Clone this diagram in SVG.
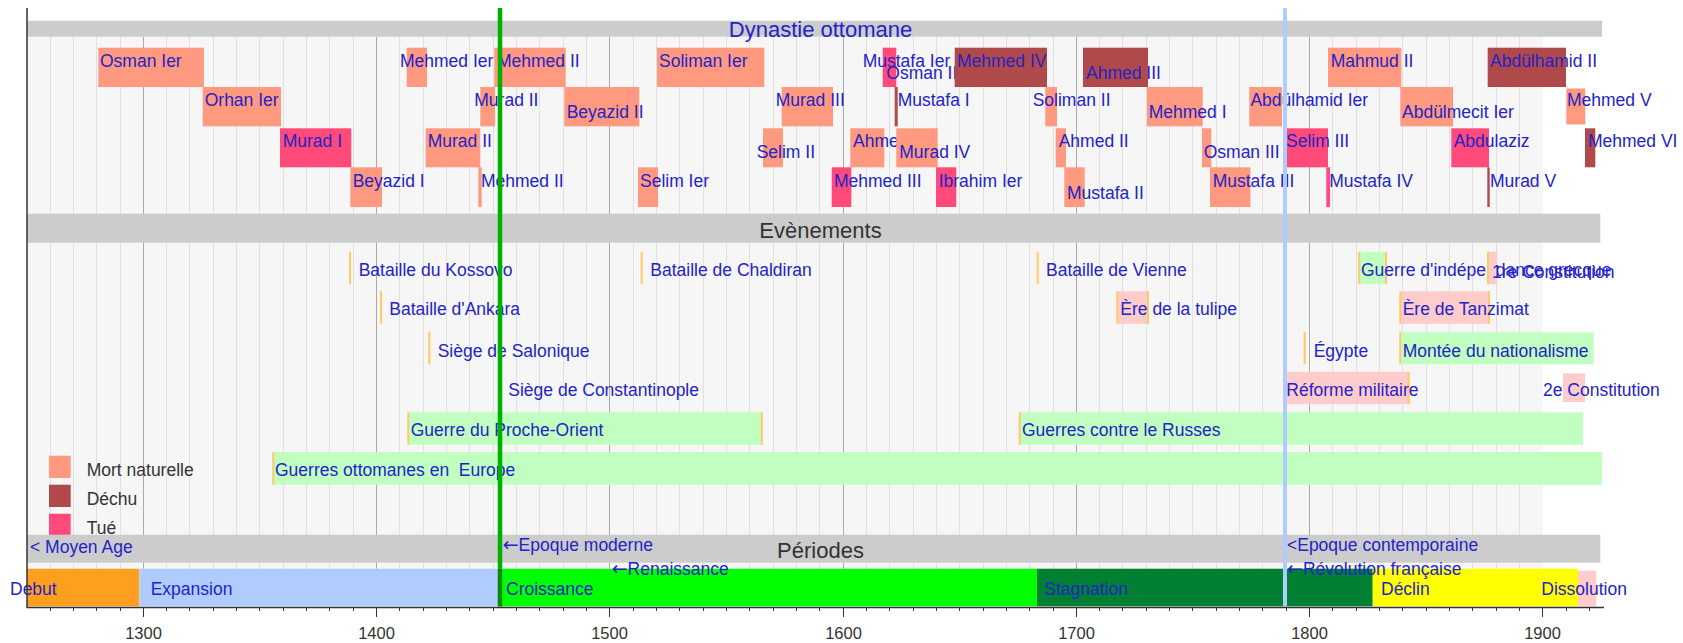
<svg xmlns="http://www.w3.org/2000/svg" width="1683" height="643" viewBox="0 0 1683 643">
<style>
.t{font-family:"Liberation Sans",Arial,Helvetica,sans-serif;font-size:17.5px;fill:#2323c8}
.ar{font-family:"DejaVu Sans",sans-serif;font-size:19px}
.h{font-size:22px;text-anchor:middle}
.k{fill:#333}
.yr{font-family:"Liberation Sans",Arial,sans-serif;font-size:16.5px;fill:#333;text-anchor:middle}
.mn{fill:#ff9980}.de{fill:#b04a4a}.tu{fill:#ff4a7a}
.eg{fill:#c0ffc0}.ep{fill:#ffcccc}
.mk{stroke:#ffc966;stroke-width:2}
.hb{fill:#cccccc}
</style>
<g id="background">
<rect x="27" y="36.7" width="1515.8" height="532" fill="#f6f6f6"/>
<path fill="none" stroke="#e0e0e0" stroke-width="1" d="M50.5 36.7V568.7M73.5 36.7V568.7M96.5 36.7V568.7M120.5 36.7V568.7M166.5 36.7V568.7M189.5 36.7V568.7M213.5 36.7V568.7M236.5 36.7V568.7M259.5 36.7V568.7M283.5 36.7V568.7M306.5 36.7V568.7M329.5 36.7V568.7M353.5 36.7V568.7M399.5 36.7V568.7M423.5 36.7V568.7M446.5 36.7V568.7M469.5 36.7V568.7M493.5 36.7V568.7M516.5 36.7V568.7M539.5 36.7V568.7M563.5 36.7V568.7M586.5 36.7V568.7M633.5 36.7V568.7M656.5 36.7V568.7M679.5 36.7V568.7M703.5 36.7V568.7M726.5 36.7V568.7M749.5 36.7V568.7M773.5 36.7V568.7M796.5 36.7V568.7M819.5 36.7V568.7M866.5 36.7V568.7M889.5 36.7V568.7M913.5 36.7V568.7M936.5 36.7V568.7M959.5 36.7V568.7M983.5 36.7V568.7M1006.5 36.7V568.7M1029.5 36.7V568.7M1053.5 36.7V568.7M1099.5 36.7V568.7M1122.5 36.7V568.7M1146.5 36.7V568.7M1169.5 36.7V568.7M1192.5 36.7V568.7M1216.5 36.7V568.7M1239.5 36.7V568.7M1262.5 36.7V568.7M1286.5 36.7V568.7M1332.5 36.7V568.7M1356.5 36.7V568.7M1379.5 36.7V568.7M1402.5 36.7V568.7M1426.5 36.7V568.7M1449.5 36.7V568.7M1472.5 36.7V568.7M1496.5 36.7V568.7M1519.5 36.7V568.7"/>
<path fill="none" stroke="#aaaaaa" stroke-width="1" d="M143.5 36.7V568.7M376.5 36.7V568.7M609.5 36.7V568.7M843.5 36.7V568.7M1076.5 36.7V568.7M1309.5 36.7V568.7"/>
</g>
<g id="dynasty">
<g id="osman1"><rect class="mn" x="98.3" y="47.7" width="105.7" height="39.3"/><text class="t" x="100" y="66.7">Osman Ier</text></g>
<g id="mehmed1"><rect class="mn" x="406.7" y="47.7" width="20.3" height="39.3"/><text class="t" x="400" y="66.7">Mehmed Ier</text></g>
<g id="mehmed2b"><rect class="mn" x="494.3" y="47.7" width="71.4" height="39.3"/><text class="t" x="497" y="66.7">Mehmed II</text></g>
<g id="soliman1"><rect class="mn" x="657" y="47.7" width="107.3" height="39.3"/><text class="t" x="659" y="66.7">Soliman Ier</text></g>
<g id="osman2"><rect class="tu" x="882.7" y="47.7" width="13.6" height="39.3"/></g>
<g id="mustafa1a"><text class="t" x="862.7" y="66.7">Mustafa Ier</text></g>
<g id="osman2-label"><text class="t" x="886.3" y="78.5">Osman II</text></g>
<g id="mehmed4"><rect class="de" x="954.7" y="47.7" width="92.3" height="39.3"/><text class="t" x="957" y="66.7">Mehmed IV</text></g>
<g id="ahmed3"><rect class="de" x="1083" y="47.7" width="65" height="39.3"/><text class="t" x="1086" y="78.5">Ahmed III</text></g>
<g id="mahmud2"><rect class="mn" x="1328" y="47.7" width="73.3" height="39.3"/><text class="t" x="1330.7" y="66.7">Mahmud II</text></g>
<g id="abdulhamid2"><rect class="de" x="1487.7" y="47.7" width="78.3" height="39.3"/><text class="t" x="1490" y="66.7">Abdülhamid II</text></g>

<g id="orhan1"><rect class="mn" x="202.7" y="87" width="78.3" height="39.3"/><text class="t" x="204.7" y="106">Orhan Ier</text></g>
<g id="murad2b"><rect class="mn" x="480.3" y="87" width="14.7" height="39.3"/><text class="t" x="474.3" y="106">Murad II</text></g>
<g id="beyazid2"><rect class="mn" x="564.3" y="87" width="75" height="39.3"/><text class="t" x="566.7" y="118.3">Beyazid II</text></g>
<g id="murad3"><rect class="mn" x="781.7" y="87" width="51.3" height="39.3"/><text class="t" x="775.7" y="106">Murad III</text></g>
<g id="mustafa1b"><rect class="de" x="894.7" y="87" width="3" height="39.3"/><text class="t" x="897.7" y="106">Mustafa I</text></g>
<g id="soliman2"><rect class="mn" x="1045.3" y="87" width="11.7" height="39.3"/><text class="t" x="1032.7" y="106">Soliman II</text></g>
<g id="mahmud1"><rect class="mn" x="1147" y="87" width="55.7" height="39.3"/><text class="t" x="1148.7" y="118.3">Mehmed I</text></g>
<g id="abdulhamid1"><rect class="mn" x="1249.3" y="87" width="32.7" height="39.3"/><text class="t" x="1250.4" y="106">Abdülhamid Ier</text></g>
<g id="abdulmecit1"><rect class="mn" x="1400.3" y="87" width="52.7" height="39.3"/><text class="t" x="1402" y="118.3">Abdülmecit Ier</text></g>
<g id="mehmed5"><rect class="mn" x="1566.3" y="88.5" width="19" height="36"/><text class="t" x="1567" y="106">Mehmed V</text></g>

<g id="murad1"><rect class="tu" x="280" y="128.3" width="71.3" height="39"/><text class="t" x="282.7" y="147.3">Murad I</text></g>
<g id="murad2a"><rect class="mn" x="425.7" y="128.3" width="54.6" height="39"/><text class="t" x="427.7" y="147.3">Murad II</text></g>
<g id="selim2"><rect class="mn" x="763" y="128.3" width="20" height="39"/><text class="t" x="756.7" y="158.3">Selim II</text></g>
<g id="ahmed1"><rect class="mn" x="850.3" y="128.3" width="34" height="39"/><text class="t" x="853" y="147.3">Ahmed I</text></g>
<g id="murad4"><rect class="mn" x="896.3" y="128.3" width="41.4" height="39"/><text class="t" x="899.3" y="158.3">Murad IV</text></g>
<g id="ahmed2"><rect class="mn" x="1055.7" y="128.3" width="10.3" height="39"/><text class="t" x="1058.7" y="147.3">Ahmed II</text></g>
<g id="osman3"><rect class="mn" x="1202" y="128.3" width="9.3" height="39"/><text class="t" x="1203.7" y="158.3">Osman III</text></g>
<g id="selim3"><rect class="tu" x="1287" y="128.3" width="41" height="39"/><text class="t" x="1286" y="147.3">Selim III</text></g>
<g id="abdulaziz"><rect class="tu" x="1451.3" y="128.3" width="37.7" height="39"/><text class="t" x="1453.7" y="147.3">Abdulaziz</text></g>
<g id="mehmed6"><rect class="de" x="1585" y="128.3" width="10.3" height="39"/><text class="t" x="1588" y="147.3">Mehmed VI</text></g>

<g id="beyazid1"><rect class="mn" x="350.3" y="167.3" width="31.7" height="39.7"/><text class="t" x="352.7" y="186.7">Beyazid I</text></g>
<g id="mehmed2a"><rect class="mn" x="478.3" y="167.3" width="3.4" height="39.7"/><text class="t" x="481" y="186.7">Mehmed II</text></g>
<g id="selim1"><rect class="mn" x="638" y="167.3" width="20" height="39.7"/><text class="t" x="640" y="186.7">Selim Ier</text></g>
<g id="mehmed3"><rect class="tu" x="831.7" y="167.3" width="19.6" height="39.7"/><text class="t" x="834" y="186.7">Mehmed III</text></g>
<g id="ibrahim1"><rect class="tu" x="936" y="167.3" width="20.3" height="39.7"/><text class="t" x="938.7" y="186.7">Ibrahim Ier</text></g>
<g id="mustafa2"><rect class="mn" x="1064.3" y="167.3" width="20.4" height="39.7"/><text class="t" x="1067" y="198.8">Mustafa II</text></g>
<g id="mustafa3"><rect class="mn" x="1210" y="167.3" width="40.4" height="39.7"/><text class="t" x="1212.7" y="186.7">Mustafa III</text></g>
<g id="mustafa4"><rect class="tu" x="1326.3" y="167.3" width="3.7" height="39.7"/><text class="t" x="1329.3" y="186.7">Mustafa IV</text></g>
<g id="murad5"><rect class="de" x="1487.3" y="167.3" width="2.4" height="39.7"/><text class="t" x="1490" y="186.7">Murad V</text></g>
</g>
<g id="events">
<g id="kossovo"><line class="mk" x1="350" y1="251.7" x2="350" y2="284.2"/><text class="t" x="358.7" y="276">Bataille du Kossovo</text></g>
<g id="chaldiran"><line class="mk" x1="641.7" y1="251.7" x2="641.7" y2="284.2"/><text class="t" x="650.3" y="276">Bataille de Chaldiran</text></g>
<g id="vienne"><line class="mk" x1="1037.7" y1="251.7" x2="1037.7" y2="284.2"/><text class="t" x="1046" y="276">Bataille de Vienne</text></g>
<g id="grece"><rect class="eg" x="1359.3" y="251.7" width="26.7" height="32.5"/><line class="mk" x1="1359.3" y1="251.7" x2="1359.3" y2="284.2"/><line class="mk" x1="1386" y1="251.7" x2="1386" y2="284.2"/><text class="t" x="1361" y="276">Guerre d'indépendance grecque</text></g>
<g id="constitution1"><rect class="ep" x="1488" y="251.7" width="9.3" height="32.5"/><line class="mk" x1="1488" y1="251.7" x2="1488" y2="284.2"/><text class="t" x="1492" y="278">1re Constitution</text></g>
<g id="ankara"><line class="mk" x1="381" y1="291.3" x2="381" y2="323.8"/><text class="t" x="389.3" y="315">Bataille d'Ankara</text></g>
<g id="tulipe"><rect class="ep" x="1117.3" y="291.3" width="30.7" height="32.5"/><line class="mk" x1="1117.3" y1="291.3" x2="1117.3" y2="323.8"/><line class="mk" x1="1148" y1="291.3" x2="1148" y2="323.8"/><text class="t" x="1120.3" y="315">Ère de la tulipe</text></g>
<g id="tanzimat"><rect class="ep" x="1400.3" y="291.3" width="88.7" height="32.5"/><line class="mk" x1="1400.3" y1="291.3" x2="1400.3" y2="323.8"/><line class="mk" x1="1489" y1="291.3" x2="1489" y2="323.8"/><text class="t" x="1402.7" y="315">Ère de Tanzimat</text></g>
<g id="salonique"><line class="mk" x1="429.3" y1="331.7" x2="429.3" y2="364.2"/><text class="t" x="437.7" y="356.7">Siège de Salonique</text></g>
<g id="egypte"><line class="mk" x1="1304.7" y1="331.7" x2="1304.7" y2="364.2"/><text class="t" x="1313.7" y="356.7">Égypte</text></g>
<g id="nationalisme"><rect class="eg" x="1400.3" y="332.3" width="193.4" height="32"/><line class="mk" x1="1400.3" y1="331.7" x2="1400.3" y2="364.2"/><text class="t" x="1402.7" y="356.7">Montée du nationalisme</text></g>
<g id="constantinople"><line class="mk" x1="500" y1="371.7" x2="500" y2="404.2"/><text class="t" x="508.3" y="396">Siège de Constantinople</text></g>
<g id="reforme"><rect class="ep" x="1287" y="371.7" width="121.7" height="32.5"/><line class="mk" x1="1408.7" y1="371.7" x2="1408.7" y2="404.2"/><text class="t" x="1286.3" y="396">Réforme militaire</text></g>
<g id="constitution2"><rect class="ep" x="1563" y="373.3" width="22" height="28.7"/><text class="t" x="1543" y="396">2e Constitution</text></g>
<g id="procheorient"><rect class="eg" x="408.3" y="412.3" width="353.4" height="32.5"/><line class="mk" x1="408.3" y1="412.3" x2="408.3" y2="444.8"/><line class="mk" x1="761.7" y1="412.3" x2="761.7" y2="444.8"/><text class="t" x="410.7" y="436">Guerre du Proche-Orient</text></g>
<g id="russes"><rect class="eg" x="1019.7" y="412.3" width="563.3" height="32.5"/><line class="mk" x1="1019.7" y1="412.3" x2="1019.7" y2="444.8"/><text class="t" x="1022" y="436">Guerres contre le Russes</text></g>
<g id="europe"><rect class="eg" x="273.3" y="452" width="1328.7" height="32.7"/><line class="mk" x1="273.3" y1="452" x2="273.3" y2="484.7"/><text class="t" x="275" y="476.3" style="white-space:pre">Guerres ottomanes en  Europe</text></g>
</g>
<g id="legend">
<rect class="mn" x="49" y="455.7" width="21.7" height="22.3"/><text class="t k" x="86.7" y="476.3">Mort naturelle</text>
<rect class="de" x="49" y="484.7" width="21.7" height="22.3"/><text class="t k" x="86.7" y="505.3">Déchu</text>
<rect class="tu" x="49" y="513.7" width="21.7" height="22.3"/><text class="t k" x="86.7" y="534">Tué</text>
</g>
<g id="headers">
<rect class="hb" x="27" y="20.7" width="1575" height="16"/>
<text class="t h" x="820.5" y="37">Dynastie ottomane</text>
<rect class="hb" x="27" y="213.7" width="1573.3" height="29"/>
<text class="t h k" x="820.5" y="238">Evènements</text>
<rect class="hb" x="27" y="534.7" width="1573.3" height="28"/>
<text class="t h k" x="820.5" y="558">Périodes</text>
</g>
<g id="periods">
<g id="debut"><rect x="27" y="568.7" width="112.3" height="37.6" fill="#ff9f1f"/><text class="t" x="10" y="594.7">Debut</text></g>
<g id="expansion"><rect x="139.3" y="568.7" width="359" height="37.6" fill="#b0ccff"/><text class="t" x="150.7" y="594.7">Expansion</text></g>
<g id="croissance"><rect x="498.3" y="568.7" width="538.7" height="37.6" fill="#00ff00"/><text class="t" x="506" y="594.7">Croissance</text></g>
<g id="stagnation"><rect x="1037" y="568.7" width="335.7" height="37.6" fill="#008033"/><text class="t" x="1044.3" y="594.7">Stagnation</text></g>
<g id="declin"><rect x="1372.7" y="568.7" width="205.3" height="37.6" fill="#ffff00"/><text class="t" x="1381" y="594.7">Déclin</text></g>
<g id="dissolution"><rect x="1578" y="570.7" width="18.3" height="35.6" fill="#ffcccc"/><text class="t" x="1541.3" y="594.7">Dissolution</text></g>
</g>
<g id="connectors">
<line x1="500" y1="8" x2="500" y2="568.7" stroke="#00b000" stroke-width="4.5"/>
<line x1="500" y1="568.7" x2="500" y2="606.5" stroke="#008c00" stroke-width="4.5"/>
<line x1="1285" y1="8" x2="1285" y2="606.5" stroke="#b0ccff" stroke-width="4"/>
</g>
<g id="eras">
<text class="t" x="30" y="553">&lt; Moyen Age</text>
<text class="t" x="502.7" y="550.7"><tspan class="ar">←</tspan>Epoque moderne</text>
<text class="t" x="1287" y="550.7">&lt;Epoque contemporaine</text>
<text class="t" x="611.7" y="574.7"><tspan class="ar">←</tspan>Renaissance</text>
<text class="t" x="1287" y="574.7"><tspan class="ar">←</tspan>Révolution française</text>
</g>
<g id="axis">
<path fill="none" stroke="#333" stroke-width="1.5" d="M27 8V607.5M26.3 607.5H1604"/>
<path fill="none" stroke="#333" stroke-width="1" d="M50.5 607v4M73.5 607v4M96.5 607v4M120.5 607v4M166.5 607v4M189.5 607v4M213.5 607v4M236.5 607v4M259.5 607v4M283.5 607v4M306.5 607v4M329.5 607v4M353.5 607v4M399.5 607v4M423.5 607v4M446.5 607v4M469.5 607v4M493.5 607v4M516.5 607v4M539.5 607v4M563.5 607v4M586.5 607v4M633.5 607v4M656.5 607v4M679.5 607v4M703.5 607v4M726.5 607v4M749.5 607v4M773.5 607v4M796.5 607v4M819.5 607v4M866.5 607v4M889.5 607v4M913.5 607v4M936.5 607v4M959.5 607v4M983.5 607v4M1006.5 607v4M1029.5 607v4M1053.5 607v4M1099.5 607v4M1122.5 607v4M1146.5 607v4M1169.5 607v4M1192.5 607v4M1216.5 607v4M1239.5 607v4M1262.5 607v4M1286.5 607v4M1332.5 607v4M1356.5 607v4M1379.5 607v4M1402.5 607v4M1426.5 607v4M1449.5 607v4M1472.5 607v4M1496.5 607v4M1519.5 607v4M1566.5 607v4M1589.5 607v4M143.5 607v10M376.5 607v10M609.5 607v10M843.5 607v10M1076.5 607v10M1309.5 607v10M1542.5 607v10"/>
<text class="yr" x="143.5" y="639">1300</text>
<text class="yr" x="376.5" y="639">1400</text>
<text class="yr" x="609.5" y="639">1500</text>
<text class="yr" x="843.5" y="639">1600</text>
<text class="yr" x="1076.5" y="639">1700</text>
<text class="yr" x="1309.5" y="639">1800</text>
<text class="yr" x="1542.5" y="639">1900</text>
</g>
</svg>
